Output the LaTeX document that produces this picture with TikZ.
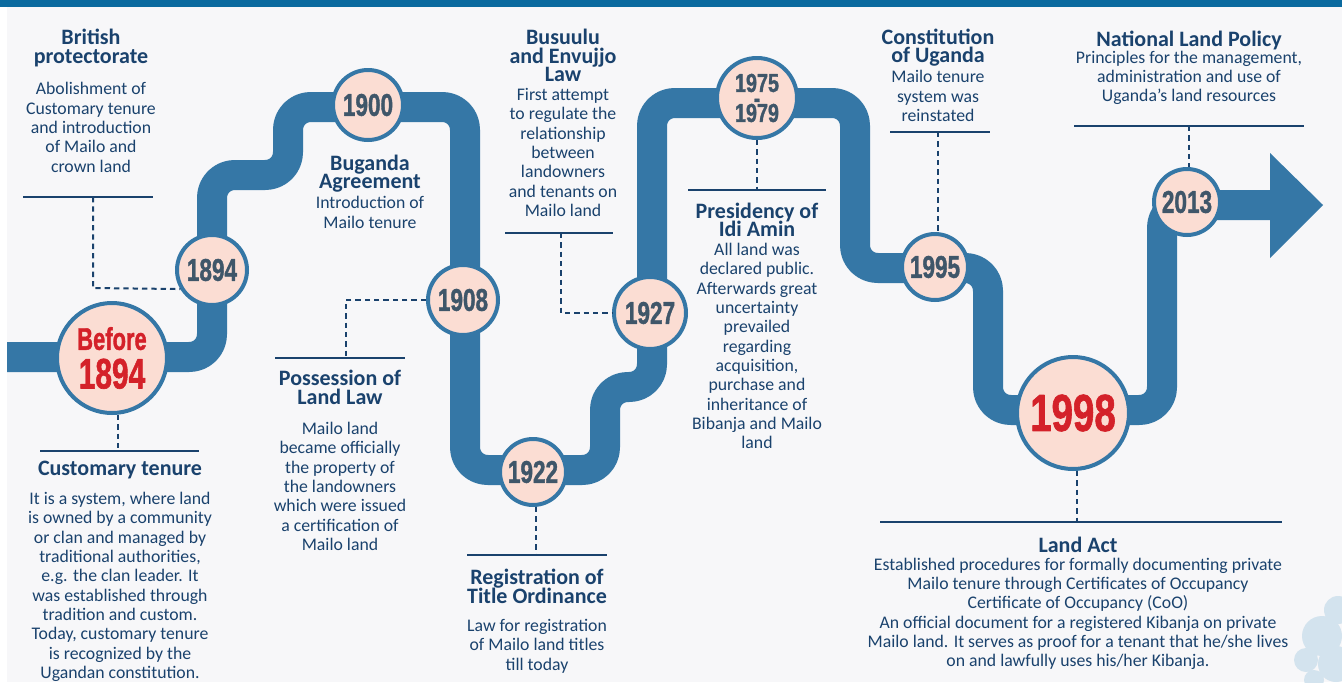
\documentclass[tikz,border=0pt]{standalone}
\usepackage{graphicx}
\usepackage{fontspec}
\setmainfont{Carlito}
\newfontfamily\yearfont[BoldFeatures={FakeBold=1.5}]{Liberation Sans}
\usetikzlibrary{arrows}
\usetikzlibrary{positioning}

\definecolor{bandblue}{HTML}{0B6A9F}
\definecolor{paper}{HTML}{F7F7F9}
\definecolor{pipeblue}{HTML}{3577A6}
\definecolor{peach}{HTML}{FBDDD3}
\definecolor{navy}{HTML}{1A426D}
\definecolor{slate}{HTML}{3F5669}
\definecolor{yearred}{HTML}{D42129}
\definecolor{treeblue}{HTML}{D3E3EE}

% squeezed digits for the year discs
\newcommand{\yearnum}[3][0.72]{\scalebox{#1}[1]{\fontsize{#2}{#2}\selectfont #3}}

\tikzset{
  pipe/.style={draw=pipeblue,line width=22.5pt,rounded corners=17pt},
  year/.style={circle,draw=pipeblue,line width=3pt,fill=peach,inner sep=0pt,
    text=slate,font=\yearfont\bfseries,align=center},
  head/.style={text=navy,inner sep=0pt,align=center,
    font=\bfseries\fontsize{16.5}{14}\selectfont},
  body/.style={text=navy,inner sep=0pt,align=center,
    font=\fontsize{13.3}{14.5}\selectfont},
  rule/.style={navy,line width=1.5pt},
  leader/.style={navy,line width=1.5pt,dash pattern=on 4pt off 3pt}
}

\begin{document}
\lineskiplimit=-20pt
\begin{tikzpicture}[line cap=butt,line join=round,x=0.75pt,y=-0.75pt]
\useasboundingbox (0,0) rectangle (1342,682);
\fill[white] (0,0) rectangle (1342,682);
\fill[paper] (7,0) rectangle (1342,682);
\fill[bandblue] (0,0) rectangle (1342,7);

% tree in the corner
\fill[treeblue] (1322,636) circle (20) (1338,610) circle (14) (1306,660) circle (12)
  (1336,664) circle (18) (1314,680) circle (10);

% the winding road
\draw[pipe] (7,357) -- (212,357) -- (212,175) -- (288,175) -- (288,107) -- (465,107)
  -- (465,470) -- (605,470) -- (605,387) -- (652,387) -- (652,103) -- (855,103)
  -- (855,268) -- (988,268) -- (988,410) -- (1162,410) -- (1162,205) -- (1275,205);
\fill[pipeblue] (1270,153) -- (1323,205) -- (1270,258) -- cycle;

% year discs
\node[year,minimum size=82.5pt,text=yearred,font=\yearfont\bfseries\fontsize{23}{29}\selectfont]
  (c0) at (112,358) {\yearnum[0.7]{23.5}{Before}\\\yearnum[0.7]{32}{1894}};
\node[year,minimum size=52.5pt] (c1894) at (212,270) {\yearnum{23.5}{1894}};
\node[year,minimum size=52.5pt] (c1900) at (368,105) {\yearnum{23.5}{1900}};
\node[year,minimum size=52.5pt] (c1908) at (463,300) {\yearnum{23.5}{1908}};
\node[year,minimum size=49.5pt] (c1922) at (533,472) {\yearnum{23.5}{1922}};
\node[year,minimum size=54pt] (c1927) at (650,313) {\yearnum{23.5}{1927}};
\node[year,minimum size=60pt,font=\yearfont\bfseries\fontsize{19}{11.25}\selectfont]
  (c1975) at (757,98) {\yearnum[0.76]{19.5}{1975}\\\yearnum[0.76]{19}{-}\\\yearnum[0.76]{19.5}{1979}};
\node[year,minimum size=49.5pt] (c1995) at (935,267) {\yearnum{23.5}{1995}};
\node[year,minimum size=84pt,text=yearred] (c1998) at (1073,413) {\yearnum[0.74]{39}{1998}};
\node[year,minimum size=49.5pt] (c2013) at (1187,202) {\yearnum{23.5}{2013}};

% rules under / over the captions
\coordinate (r1) at (93,197);
\coordinate (r3) at (346,358);
\coordinate (r4) at (536,555);
\coordinate (r5) at (561,233);
\coordinate (r6) at (757,190);
\coordinate (r7) at (938,132);
\coordinate (r8) at (1189,126);
\coordinate (r9) at (1077,522);
\coordinate (r10) at (118,451);
\draw[rule] (23,197) -- (153,197);
\draw[rule] (275,358) -- (405,358);
\draw[rule] (467,555) -- (607,555);
\draw[rule] (505,233) -- (613,233);
\draw[rule] (688,190) -- (826,190);
\draw[rule] (890,132) -- (990,132);
\draw[rule] (1074,126) -- (1304,126);
\draw[rule] (880,522) -- (1282,522);
\draw[rule] (40,451) -- (199,451);

% dashed leaders
\draw[leader] (r1) -- (93,288) -- (c1894.211);
\draw[leader] (c1908.west) -| (r3);
\draw[leader] (r4 |- c1922.south) -- (r4);
\draw[leader] (r5) |- (c1927.west);
\draw[leader] (r6 |- c1975.south) -- (r6);
\draw[leader] (r7) -- (r7 |- c1995.north);
\draw[leader] (r8) -- (r8 |- c2013.north);
\draw[leader] (r9 |- c1998.south) -- (r9);
\draw[leader] (r10 |- c0.south) -- (r10);

% captions
\node[head] (brit-head) at (91,48) {British\\protectorate};
\node[body] (brit-text) at (91,127.5) {Abolishment of\\Customary tenure\\and introduction\\of Mailo and\\crown land};

\node[head] (bug-head) at (370,173.5) {Buganda\\Agreement};
\node[body] (bug-text) at (370,212.5) {Introduction of\\Mailo tenure};

\node[head] (poss-head) at (340,387.5) {Possession of\\Land Law};
\node[body] (poss-text) at (340,486.5) {Mailo land\\became officially\\the property of\\the landowners\\which were issued\\a certification of\\Mailo land};

\node[head] (reg-head) at (537,586.5) {Registration of\\Title Ordinance};
\node[body] (reg-text) at (537,646) {Law for registration\\of Mailo land titles\\till today};

\node[head] (bus-head) at (563,55.5) {Busuulu\\and Envujjo\\Law};
\node[body] (bus-text) at (563,152.5) {First attempt\\to regulate the\\relationship\\between\\landowners\\and tenants on\\Mailo land};

\node[head] (amin-head) at (757,220) {Presidency of\\Idi Amin};
\node[body] (amin-text) at (757,346) {All land was\\declared public.\\Afterwards great\\uncertainty\\prevailed\\regarding\\acquisition,\\purchase and\\inheritance of\\Bibanja and Mailo\\land};

\node[head] (const-head) at (938,47.5) {Constitution\\of Uganda};
\node[body] (const-text) at (938,96) {Mailo tenure\\system was\\reinstated};

\node[head] (nlp-head) at (1189,40) {National Land Policy};
\node[body] (nlp-text) at (1189,78) {Principles for the management,\\administration and use of\\Uganda’s land resources};

\node[head] (act-head) at (1078,545) {Land Act};
\node[body] (act-text) at (1078,614) {Established procedures for formally documenting private\\Mailo tenure through Certificates of Occupancy\\Certificate of Occupancy (CoO)\\An official document for a registered Kibanja on private\\Mailo land. It serves as proof for a tenant that he/she lives\\on and lawfully uses his/her Kibanja.};

\node[head] (cust-head) at (120,470) {Customary tenure};
\node[body] (cust-text) at (120,587) {It is a system, where land\\is owned by a community\\or clan and managed by\\traditional authorities,\\e.g. the clan leader. It\\was established through\\tradition and custom.\\Today, customary tenure\\is recognized by the\\Ugandan constitution.};
\end{tikzpicture}
\end{document}
